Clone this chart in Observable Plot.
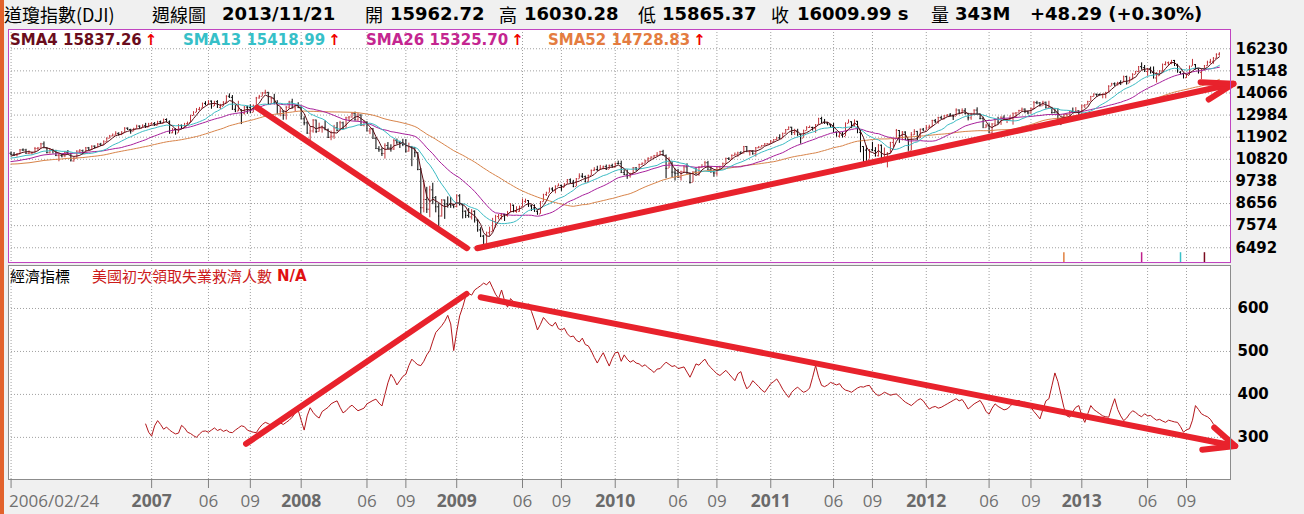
<!DOCTYPE html>
<html><head><meta charset="utf-8">
<script src="https://cdn.jsdelivr.net/npm/d3@7"></script>
<script src="https://cdn.jsdelivr.net/npm/@observablehq/plot@0.6"></script>
<style>
html,body{margin:0;padding:0;background:#f0f0f0;}
#root{position:relative;width:1304px;height:514px;overflow:hidden;background:#f0f0f0;font-family:"DejaVu Sans",sans-serif;}
.abs{position:absolute;white-space:nowrap;}
.hd{top:3px;font-size:18px;line-height:22px;color:#000;}
.cjk{font-family:"Noto Sans CJK TC","Noto Sans CJK SC",sans-serif;font-weight:400;}
.b{font-family:"DejaVu Sans",sans-serif;font-weight:bold;}
.lg{top:31px;font-size:15px;line-height:18px;font-weight:bold;}
.arr{color:#f00000;margin-left:3px;}
.pnl{position:absolute;left:0;}
.pnl svg{display:block;}
</style></head>
<body><div id="root"><div class="abs" style="left:0;top:0;width:4px;height:514px;background:#e2622c"></div></div>
<script>
// ---------------- DATA ----------------
// header
const headerParts = ["道瓊指數(DJI)","週線圖","2013/11/21","開","15962.72","高","16030.28","低","15865.37","收","16009.99 s","量","343M","+48.29 (+0.30%)"];
// legend
const smaPeriods = [4, 13, 26, 52];
const smaLabels = ["SMA4 15837.26","SMA13 15418.99","SMA26 15325.70","SMA52 14728.83"];
// indicator panel title
const indicatorTitle = "經濟指標";
const indicatorName = "美國初次領取失業救濟人數";
const indicatorValue = "N/A";

// weekly closes before the visible range (2005-03-04 .. 2006-02-17), used only for moving averages
const warmupClose = [10941,10774,10630,10442,10404,10461,10088,10157,10193,10345,10140,10471,10542,10460,10513,10623,10297,10303,10449,10640,10651,10641,10559,10600,10559,10397,10447,10679,10641,10419,10569,10292,10287,10215,10402,10531,10686,10766,10932,10877,10779,10876,10883,10718,10959,10960,10667,10908,10794,10920,11115];

// weekly DJI bars 2006-02-24 .. 2013-11-22
const weekClose = [
11061,11022,11076,11280,11279,11109,11120,11137,11347,11367,11577,11380,11144,11278,11247,11000,11014,10989,11150,11091,10739,10868,11219,11240,11088,11381,11284,11464,11392,11560,11508,11679,11850,11961,12002,12090,12032,12108,12343,12280,12194,12307,12445,12343,12463,
12398,12556,12565,12487,12653,12581,12768,12647,12114,12277,12110,12481,12354,12560,12612,12962,13121,13265,13326,13556,13507,13668,13424,13640,13361,13409,13612,13908,13851,13266,13182,13240,13079,13379,13358,13114,13443,13821,13896,14066,14093,13522,13807,13596,13043,13177,12981,13372,13625,13340,13451,13366,
12800,12606,12099,12207,12743,12183,12348,12381,12266,11894,11951,12361,12216,12609,12325,12849,12892,13058,12745,12986,12480,12638,12210,12307,11843,11346,11289,11101,11497,11370,11327,11734,11659,11628,11544,11220,11422,11388,11143,10325,8451,8852,8378,9325,8943,8497,8046,8829,8635,8629,8579,8515,
9034,8599,8281,8077,8001,8280,7850,7366,7063,6627,7224,7278,7776,8018,8083,8131,8076,8212,8575,8268,8277,8500,8764,8799,8539,8438,8280,8146,8743,9093,9172,9370,9321,9505,9544,9441,9605,9820,9665,9487,9865,9996,9972,9713,10023,10271,10319,10310,10388,10471,10329,10520,10428,
10618,10610,10173,10067,10012,10099,10402,10325,10567,10625,10742,10851,10928,10998,11019,11204,11009,10380,10620,10193,10137,9932,10212,10450,10144,9686,10198,10098,10425,10466,10653,10303,10214,10150,10448,10462,10607,10860,10830,11006,11063,11133,11118,11444,11192,11204,11092,11382,11410,11492,11573,11578,
11675,11787,11872,11824,12092,12273,12391,12130,12170,12044,11859,12221,12377,12380,12342,12506,12811,12639,12596,12512,12442,12151,11952,12004,11934,12582,12657,12480,12681,12143,11445,11270,10818,11285,11240,10993,11509,10771,10913,11103,11645,11809,12231,11983,12153,11796,11231,12019,12184,11867,12294,12218,
12360,12422,12720,12660,12862,12801,12950,12983,12978,12922,13233,13081,13212,13060,12850,13029,13228,13038,12821,12369,12455,12119,12554,12767,12640,12880,12772,12777,12823,13075,13096,13207,13275,13158,13090,13306,13593,13579,13437,13610,13329,13344,13107,13093,12815,12588,13010,13025,13155,13135,13190,12938,
13435,13488,13650,13896,14009,13993,13982,14001,14090,14397,14515,14512,14579,14565,14865,14548,14713,14974,15118,15354,15303,15116,15248,15070,14800,14910,15136,15464,15544,15559,15658,15425,15081,15010,14810,14922,15376,15452,15258,15073,15237,15400,15570,15615,15762,15962,16010];
const weekHigh = [
11180,11150,11100,11300,11330,11310,11230,11170,11400,11400,11600,11670,11400,11300,11310,11260,11100,11060,11200,11250,11120,10930,11240,11300,11270,11400,11400,11480,11480,11590,11600,11730,11870,11990,12060,12170,12120,12180,12370,12360,12290,12340,12490,12460,12510,
12580,12580,12610,12620,12680,12690,12790,12800,12700,12330,12320,12520,12500,12580,12640,12980,13150,13300,13360,13570,13640,13690,13680,13660,13690,13510,13640,13930,14020,13940,13450,13660,13250,13400,13420,13480,13480,13850,13950,14090,14200,14100,13840,14000,13690,13350,13190,13400,13660,13760,13480,13590,
13390,12900,12660,12400,12760,12740,12590,12450,12700,12300,12200,12480,12620,12680,12640,12880,12920,13110,13130,13060,13000,12700,12660,12330,12330,11890,11440,11370,11580,11640,11530,11800,11810,11700,11800,11790,11610,11450,11400,11150,10370,9790,9450,9500,9650,9000,8650,8850,8830,8980,8950,8630,
9080,9090,8630,8300,8410,8360,8300,7870,7470,7100,7260,7500,7930,8080,8120,8170,8130,8270,8650,8580,8500,8530,8880,8870,8800,8580,8590,8300,8750,9110,9210,9420,9430,9520,9620,9560,9630,9830,9860,9790,9880,10110,10120,10000,10050,10300,10410,10480,10520,10490,10540,10540,10580,
10640,10730,10730,10300,10300,10140,10420,10420,10580,10640,10780,10900,10940,11010,11150,11210,11260,11030,10900,10700,10350,10330,10240,10480,10600,10150,10210,10400,10460,10560,10720,10720,10460,10270,10470,10480,10640,10880,10900,11040,11130,11170,11190,11450,11450,11240,11240,11400,11450,11500,11590,11590,
11740,11790,11900,12020,12100,12280,12400,12390,12290,12290,12060,12250,12420,12450,12390,12520,12830,12880,12770,12620,12520,12570,12160,12130,12140,12600,12750,12660,12750,12680,12250,11440,11470,11300,11650,11390,11540,11520,11370,11150,11650,11830,12280,12230,12180,12170,11790,12130,12270,12190,12300,12330,
12480,12490,12730,12770,12880,12920,12960,13010,13060,12990,13290,13240,13290,13300,13070,13070,13240,13340,13040,12880,12530,12560,12560,12790,12880,12900,12950,12790,12950,13080,13100,13220,13330,13290,13180,13320,13650,13660,13600,13660,13620,13660,13360,13290,13290,12820,13020,13050,13170,13330,13350,13200,
13470,13490,13660,13900,14020,14010,14020,14020,14100,14420,14540,14560,14590,14660,14890,14890,14840,15010,15120,15360,15540,15410,15270,15330,15340,15060,15160,15480,15590,15580,15660,15660,15470,15110,15040,15010,15380,15710,15460,15260,15240,15410,15620,15710,15800,15980,16030];
const weekLow = [
11000,10960,10930,11050,11200,11080,11050,11030,11120,11230,11340,11360,11090,11080,11080,10960,10700,10890,10900,11060,10710,10680,10840,11120,11060,11070,11260,11260,11320,11380,11460,11490,11650,11820,11920,11980,11950,11980,12090,12250,12050,12170,12290,12330,12340,
12330,12370,12500,12440,12460,12560,12550,12620,12050,12070,12000,12100,12270,12350,12500,12600,12940,13100,13180,13320,13440,13490,13270,13400,13340,13260,13400,13560,13820,13230,13100,13150,12520,12990,13020,13090,13100,13400,13760,13880,13980,13500,13500,13480,13040,12900,12730,12740,13260,13300,13150,13300,
12780,12460,12050,11630,12100,12080,12150,12100,12250,11840,11730,11800,12180,12200,12300,12300,12690,12830,12700,12680,12460,12410,12190,12030,11820,11310,11160,10960,10830,11300,11170,11250,11520,11350,11440,11130,11170,10460,10900,10260,7880,8200,8170,7960,8600,8200,7450,7990,7880,8430,8420,8400,
8440,8540,7900,7920,7950,7850,7700,7250,6990,6470,6540,7050,7270,7450,7860,7850,7780,7990,8200,8200,8180,8230,8490,8660,8470,8270,8240,8090,8130,8720,9000,9170,9220,9130,9480,9250,9430,9600,9640,9430,9480,9850,9880,9680,9680,10020,10220,10230,10280,10310,10290,10320,10420,
10420,10550,10150,10030,9840,9900,10100,10230,10310,10520,10600,10700,10820,10880,10950,10990,10980,9870,10370,9920,9760,9900,9760,10150,10100,9610,9690,10080,9990,10380,10460,10280,10140,9940,9990,10290,10440,10580,10760,10780,10970,10920,11060,11080,11170,10980,11020,10930,11340,11390,11460,11520,
11560,11620,11740,11800,11830,12050,12230,11980,11980,11930,11560,11850,12200,12340,12200,12090,12490,12560,12530,12470,12350,12110,11930,11860,11860,11940,12560,12320,12390,12070,11140,10600,10720,10830,11200,10930,10930,10600,10760,10400,11100,11390,11790,11600,11720,11730,11230,11230,11980,11730,11840,12200,
12220,12300,12400,12580,12540,12780,12750,12890,12900,12720,12920,13020,13030,12990,12700,12730,12960,13020,12750,12360,12340,12100,12040,12400,12500,12480,12730,12570,12710,12490,12820,13080,13140,13050,13000,13040,13250,13490,13390,13420,13300,13320,13030,13080,12740,12470,12590,12780,12880,13100,13050,12880,
12920,13300,13460,13650,13860,13850,13920,13780,13780,14080,14390,14370,14400,14430,14560,14450,14540,14690,14960,15060,15180,15100,14880,14990,14760,14550,14890,15090,15390,15390,15450,15360,15070,14960,14760,14770,14920,15370,15190,14990,14720,15140,15370,15480,15470,15730,15865];

// weekly US initial jobless claims (thousands), from 2007-01-05
const claims2007 = [331,312,303,327,339,330,319,324,317,312,308,310,328,322,312,309,304,300,308,314,315,312,317,322,316,319,314,317,312,311,317,322,327,325,317,314,312,311,322,330,335,332,328,332,337,334,330,335,340,347,357,363];
const claims2008 = [340,317,350,369,358,350,345,360,365,370,378,382,385,370,357,362,370,375,368,362,365,368,378,382,386,389,380,373,400,427,447,437,422,432,442,447,467,482,475,469,467,477,492,502,524,544,552,560,570,584,564,502];
const claims2009 = [546,583,603,628,635,631,643,648,653,659,655,663,648,633,623,643,618,603,623,615,608,607,613,603,611,593,573,550,563,579,571,563,559,568,553,550,554,541,534,536,526,522,531,516,513,501,486,473,486,497,481,466,484];
const claims2010 = [497,498,477,492,482,475,479,473,471,465,469,462,457,451,459,460,468,475,470,465,467,460,462,464,452,440,455,471,468,476,482,470,462,455,448,444,450,456,448,440,432,448,453,430,413,420,432,425,418,410,405,415];
const claims2011 = [425,430,436,425,412,402,393,405,412,417,410,405,408,415,440,467,440,421,418,422,428,425,422,425,415,410,408,405,410,415,418,417,420,421,410,402,397,400,405,402,398,400,401,395,388,382,378,374,380,386,390,385];
const claims2012 = [375,366,370,372,368,370,374,378,382,386,390,385,388,378,366,372,378,382,386,375,360,354,368,378,372,368,364,366,372,380,384,386,380,382,378,370,360,352,343,365,385,390,420,450,430,400,370,350,347,360,370,374];
const claims2013 = [350,335,355,374,365,360,355,350,348,347,370,390,365,350,339,345,355,362,358,352,348,355,350,351,345,340,342,338,335,340,338,336,335,325,312,318,320,340,374,365,355,351,348,342,331];

// axes
const priceTicks = [16230,15148,14066,12984,11902,10820,9738,8656,7574,6492];
const claimsTicks = [600,500,400,300];
const xTickDates = ["2006-02-24","2007-01-19","2007-06-01","2007-09-07","2008-01-04","2008-06-06","2008-09-05","2009-01-02","2009-06-05","2009-09-04","2010-01-08","2010-06-04","2010-09-03","2011-01-07","2011-06-03","2011-09-02","2012-01-06","2012-06-01","2012-09-07","2013-01-04","2013-06-07","2013-09-06"];
const xTickLabels = ["2006/02/24","2007","06","09","2008","06","09","2009","06","09","2010","06","09","2011","06","09","2012","06","09","2013","06","09"];

// hand-drawn trend annotations (date, value)
const trendPrice = [
  {id:"a", pts:[["2007-09-23",13341],["2009-01-26",6471]]},
  {id:"b", pts:[["2009-02-19",6471],["2013-12-25",14515]]},
  {id:"bh", pts:[["2013-10-09",14593],["2013-12-25",14515],["2013-10-28",13747]]}
];
const trendClaims = [
  {id:"c", pts:[["2007-08-28",285],["2009-01-25",634]]},
  {id:"d", pts:[["2009-02-27",626],["2013-12-29",280]]},
  {id:"dh", pts:[["2013-11-10",323],["2013-12-29",280],["2013-10-13",271]]}
];
// signal markers at bottom of price panel
const signalDates = ["2012-11-23","2013-05-24","2013-08-23","2013-10-18"];
const signalColors = ["#e08040","#c0208c","#38c0c8","#7a0a1e"];

// ---------------- BUILD ----------------
const DAY = 864e5;
const P = s => new Date(s + "T00:00:00Z");
const xDomain = [P("2006-02-18"), P("2013-12-18")];
const firstVisible = P("2006-02-24");
const warmStart = Date.UTC(2005, 2, 4);
const allClose = warmupClose.concat(weekClose);
const allWeeks = allClose.map((c, i) => ({date: new Date(warmStart + 7 * i * DAY), close: c}));
const nb = Math.min(weekClose.length, weekHigh.length, weekLow.length);
const bars = [];
for (let i = 0; i < nb; i++) {
  const j = warmupClose.length + i;
  bars.push({date: allWeeks[j].date, open: allClose[j - 1], close: weekClose[i], high: weekHigh[i], low: weekLow[i]});
}
const UP = "#c0343a", DOWN = "#000000";
bars.forEach(b => b.col = b.close >= b.open ? UP : DOWN);

const claimsAll = [].concat(claims2007, claims2008, claims2009, claims2010, claims2011, claims2012, claims2013);
const cStart = Date.UTC(2007, 0, 5);
const claimsData = claimsAll.map((v, i) => ({date: new Date(cStart + 7 * i * DAY), v}));

const ticks = xTickDates.map((d, i) => ({date: P(d), label: xTickLabels[i]}));
const flat = arr => arr.flatMap(t => t.pts.map(p => ({id: t.id, date: P(p[0]), v: p[1]})));
const signals = signalDates.map((d, i) => ({date: P(d), col: signalColors[i]}));

const smaColors = ["#5a0c14", "#3cbcc4", "#a8209c", "#d8844a"];
const GRID = "#a0a0a0";
const RED = "#e8222c";

const topPlot = Plot.plot({
  width: 1304, height: 237,
  marginLeft: 8, marginRight: 74, marginTop: 2, marginBottom: 2,
  style: {background: "transparent", overflow: "visible"},
  x: {type: "utc", domain: xDomain, axis: null},
  y: {domain: [5771, 17172], axis: null},
  color: {type: "identity"},
  marks: [
    Plot.frame({fill: "white", stroke: "none"}),
    Plot.ruleY(priceTicks, {y: d => d, stroke: GRID, strokeDasharray: "1,2"}),
    Plot.ruleX(ticks, {x: "date", stroke: GRID, strokeDasharray: "1,2"}),
    Plot.text(priceTicks, {y: d => d, text: d => String(d), frameAnchor: "right", dx: 5, textAnchor: "start", fontSize: 15, fontWeight: "bold", fontFamily: "DejaVu Sans", fill: "#000"}),
    Plot.ruleX(signals, {x: "date", y1: 5771, y2: 6250, stroke: "col", strokeWidth: 1.5}),
    Plot.ruleX(bars, {x: "date", y1: "low", y2: "high", stroke: "col", strokeWidth: 1}),
    Plot.ruleY(bars, {y: "open", x1: d => new Date(+d.date - 2.4 * DAY), x2: "date", stroke: "col", strokeWidth: 1}),
    Plot.ruleY(bars, {y: "close", x1: "date", x2: d => new Date(+d.date + 2.4 * DAY), stroke: "col", strokeWidth: 1}),
    ...smaPeriods.slice().reverse().map((k, r) => {
      const c = smaColors[smaPeriods.length - 1 - r];
      return Plot.lineY(allWeeks, Plot.filter(d => d.date >= firstVisible,
        Plot.windowY({k, anchor: "end", reduce: "mean"}, {x: "date", y: "close", stroke: c, strokeWidth: 1})));
    }),
    Plot.line(flat(trendPrice), {x: "date", y: "v", z: "id", stroke: RED, strokeWidth: 6, strokeLinecap: "round", strokeLinejoin: "round"}),
    Plot.frame({stroke: "#c044c0"})
  ]
});

const yearRe = /^\d{4}$/;
const botPlot = Plot.plot({
  width: 1304, height: 250,
  marginLeft: 8, marginRight: 74, marginTop: 1, marginBottom: 35,
  style: {background: "transparent", overflow: "visible"},
  x: {type: "utc", domain: xDomain, axis: null},
  y: {domain: [202, 700], axis: null},
  color: {type: "identity"},
  marks: [
    Plot.frame({fill: "white", stroke: "none"}),
    Plot.ruleY(claimsTicks, {y: d => d, stroke: GRID, strokeDasharray: "1,2"}),
    Plot.ruleX(ticks, {x: "date", stroke: GRID, strokeDasharray: "1,2"}),
    Plot.text(claimsTicks, {y: d => d, text: d => String(d), frameAnchor: "right", dx: 7, textAnchor: "start", fontSize: 15, fontWeight: "bold", fontFamily: "DejaVu Sans", fill: "#000"}),
    Plot.lineY(claimsData, {x: "date", y: "v", stroke: "#b3161b", strokeWidth: 1}),
    Plot.line(flat(trendClaims), {x: "date", y: "v", z: "id", stroke: RED, strokeWidth: 6, strokeLinecap: "round", strokeLinejoin: "round"}),
    Plot.frame({stroke: "#8c8c8c"}),
    // x axis ticks and labels
    Plot.ruleX(ticks, {x: "date", insetTop: 205, dy: 9, stroke: "#808080"}),
    Plot.text(ticks.filter((t, i) => i === 0), {x: "date", text: "label", frameAnchor: "bottom", dy: 27, dx: -2, textAnchor: "start", fontSize: 17, fontFamily: "Open Sans", fill: "#707070"}),
    Plot.text(ticks.filter((t, i) => i > 0 && yearRe.test(t.label)), {x: "date", text: "label", frameAnchor: "bottom", dy: 27, fontSize: 17.5, fontWeight: "bold", fontFamily: "Open Sans", fill: "#6a6a6a"}),
    Plot.text(ticks.filter((t, i) => i > 0 && !yearRe.test(t.label)), {x: "date", text: "label", frameAnchor: "bottom", dy: 27, fontSize: 17, fontFamily: "Open Sans", fill: "#707070"})
  ]
});

const root = document.getElementById("root");
function panel(el, top) {
  const d = document.createElement("div");
  d.className = "pnl"; d.style.top = top + "px";
  d.appendChild(el); root.appendChild(d);
}
panel(topPlot, 27);
panel(botPlot, 264);

function span(text, left, cls, style) {
  const s = document.createElement("div");
  s.className = "abs " + cls; s.style.left = left + "px";
  if (style) Object.assign(s.style, style);
  s.textContent = text; root.appendChild(s); return s;
}
// header
const hx = [4, 152, 222, 365, 390, 499, 524, 638, 662, 771, 797, 931, 955, 1030];
headerParts.forEach((t, i) => span(t, hx[i], "hd " + (/[\u4e00-\u9fff]/.test(t) ? "cjk" : "b")));
// legend
const lx = [10, 183, 366, 548];
const legendColors = ["#6a0d1c", "#36c0c8", "#c42690", "#e47c40"];
smaLabels.forEach((t, i) => {
  const s = span(t, lx[i], "lg", {color: legendColors[i]});
  const a = document.createElement("span"); a.className = "arr"; a.textContent = "↑"; s.appendChild(a);
});
// indicator header
span(indicatorTitle, 10, "cjk", {top: "266px", fontSize: "15px", lineHeight: "20px", color: "#000"});
span(indicatorName, 92, "cjk", {top: "266px", fontSize: "15px", lineHeight: "20px", color: "#cc1a1a"});
span(indicatorValue, 277, "b", {top: "266px", fontSize: "15px", lineHeight: "20px", color: "#e01010"});
</script>
</body></html>
